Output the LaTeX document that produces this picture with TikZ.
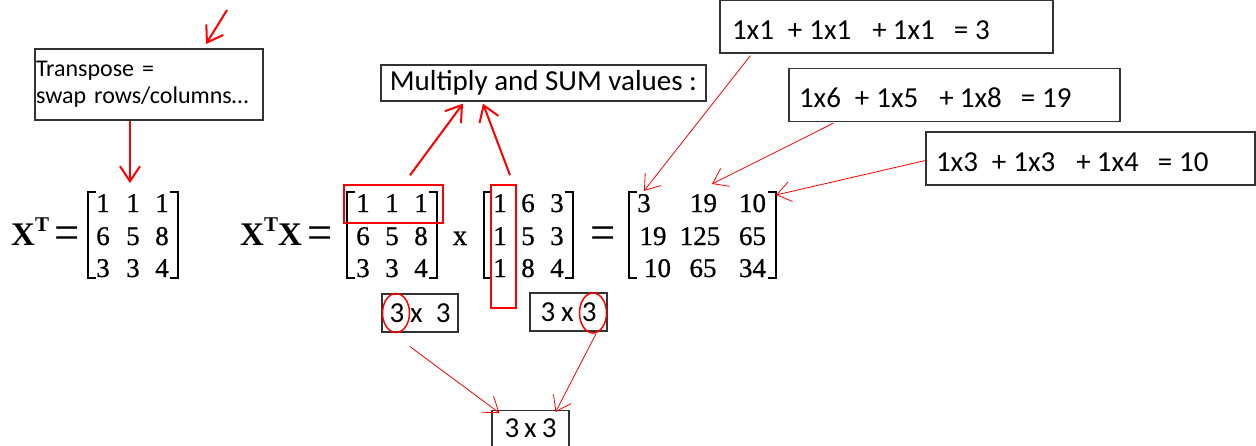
\documentclass[tikz,border=0pt]{standalone}
\usepackage{fontspec}
\usepackage{graphicx}
\newfontfamily\carl{Carlito}
\newfontfamily\lserif{Liberation Serif}
\newfontfamily\digf{Liberation Serif}[FakeBold=0.7]
\usetikzlibrary{arrows.meta,shapes.geometric,calc}
\newcommand\gp[1]{\hspace{#1pt}}
\newcommand\bigeq{\raisebox{-4pt}{\scalebox{1.4}[1.55]{=}}}
\begin{document}
\begin{tikzpicture}[x=1pt,y=-1pt,
  box/.style={draw=black!80, line width=1.2pt, rectangle, font=\carl\fontsize{29}{34}\selectfont},
  sumbox/.style={box, minimum height=53, align=left, text height=25pt, text depth=0pt},
  dig/.style={font=\digf\fontsize{27}{27}\selectfont, anchor=base, inner sep=0},
  sym/.style={font=\lserif\fontsize{32}{32}\selectfont, anchor=base, inner sep=0},
  xlab/.style={font=\lserif\bfseries\fontsize{33}{33}\selectfont, anchor=base west, inner sep=0},
  brk/.style={line width=1.6pt, black},
  redarr/.style={draw=red, line width=2pt, -{Straight Barb[length=15pt,width=20pt]}},
  thinarr/.style={draw=red, line width=0.8pt, -{Straight Barb[length=14pt,width=20pt]}},
  redrect/.style={draw=red, line width=1.5pt, rectangle, inner sep=0},
  redell/.style={draw=red, line width=1.5pt, ellipse, inner sep=0},
]
\useasboundingbox (0,0) rectangle (1256,445);

% text boxes
\node[box, font=\carl\fontsize{24}{27}\selectfont, minimum width=228, minimum height=71,
      text width=226, inner xsep=1, align=left] (tbox) at (149,84.5)
      {\raisebox{2pt}{Transpose =}\\\raisebox{2pt}{swap rows/columns…}};
\node[box, minimum width=325, minimum height=36, inner sep=0] (mult) at (543.5,83)
      {Multiply and SUM values :};
\node[sumbox, inner xsep=12, text width=309] (box1) at (886.5,26.5)
      {1x1\gp{14}+\gp{7}1x1\gp{21}+\gp{6}1x1\gp{19}=\gp{7}3};
\node[sumbox, inner xsep=10, text width=311] (box2) at (954.5,95)
      {1x6\gp{14}+\gp{7}1x5\gp{21}+\gp{6}1x8\gp{19}=\gp{7}19};
\node[sumbox, inner xsep=10, text width=309] (box3) at (1090.5,158.5)
      {1x3\gp{14}+\gp{7}1x3\gp{21}+\gp{6}1x4\gp{19}=\gp{7}10};

% labels
\node[xlab] (xt) at (11,245) {X\raisebox{14pt}{\fontsize{21}{21}\selectfont T}};
\node[sym] (eq1) at (67,245) {\bigeq};
\node[xlab] (xtx) at (240,245) {X\raisebox{14pt}{\fontsize{21}{21}\selectfont T}X};
\node[sym] (eq2) at (320,245) {\bigeq};
\node[dig, font=\digf\fontsize{29}{29}\selectfont] (times) at (460,245) {x};
\node[sym] (eq3) at (603,245) {\bigeq};

% matrix entries
\foreach \nm/\xx/\yy/\t in {
  a11/103/212/1, a12/133/212/1, a13/162/212/1,
  a21/103/245/6, a22/133/245/5, a23/162/245/8,
  a31/103/277/3, a32/133/277/3, a33/162/277/4,
  b11/363/212/1, b12/392/212/1, b13/421/212/1,
  b21/363/245/6, b22/392/245/5, b23/421/245/8,
  b31/363/277/3, b32/392/277/3, b33/421/277/4,
  c11/500/212/1, c12/528/212/6, c13/557/212/3,
  c21/500/245/1, c22/528/245/5, c23/557/245/3,
  c31/500/277/1, c32/528/277/8, c33/557/277/4,
  d11/644/212/3, d12/703.5/212/19, d13/752.5/212/10,
  d21/653/245/19, d22/700/245/125, d23/752.5/245/65,
  d31/657.5/277/10, d32/703/277/65, d33/752.5/277/34}
  {\node[dig] (\nm) at (\xx,\yy) {\t};}

% brackets
\foreach \L/\R in {88/178, 347/437, 484/573, 629/776}{
  \draw[brk] (\L+8,192) -- (\L,192) -- (\L,278) -- (\L+8,278);
  \draw[brk] (\R-8,192) -- (\R,192) -- (\R,278) -- (\R-8,278);
}

% red highlights
\node[redrect, minimum width=99, minimum height=38] (rowbox) at (393.5,204) {};
\node[redrect, minimum width=25, minimum height=123] (colbox) at (503.5,246.5) {};

% dimension boxes
\node[box, minimum width=76, minimum height=38, inner sep=0] (lsz) at (420,313) {3\gp{6}x\gp{13}3};
\node[box, minimum width=77, minimum height=38, inner sep=0] (rsz) at (568.5,312) {3\gp{6}x\gp{8}3};
\node[box, minimum width=77, minimum height=36, inner xsep=0, inner ysep=7, anchor=north] (bot) at (530.5,410) {3\gp{5}x\gp{5}3};
\node[redell, minimum width=27, minimum height=39] (lell) at (396,313) {};
\node[redell, minimum width=27, minimum height=40] (rell) at (593,313) {};

% coordinates
\coordinate (u0) at (227,10);
\coordinate (u1) at (206,44);
\coordinate (t1) at (130,183);
\coordinate (dtr) at (776,195);

% thick red arrows
\draw[redarr] (u0) -- (u1);
\draw[redarr] ([xshift=-19pt]tbox.south) -- (t1);
\draw[redarr] ([xshift=16.5pt,yshift=9pt]rowbox.north) -- ([xshift=-80.5pt,yshift=-2pt]mult.south);
\draw[redarr] ([xshift=6.5pt,yshift=9pt]colbox.north) -- ([xshift=-60.5pt,yshift=-2pt]mult.south);

% thin red arrows
\draw[thinarr] ([xshift=31pt,yshift=-2pt]box1.south west) -- ([yshift=3pt]d11.north);
\draw[thinarr] ([xshift=45pt,yshift=-1pt]box2.south west) -- ([xshift=8.5pt,yshift=10pt]d12.north);
\draw[thinarr] ([yshift=-2pt]box3.west) -- (dtr);
\draw[thinarr] ([xshift=-10pt,yshift=-14pt]lsz.south) -- ([xshift=8pt,yshift=-3pt]bot.north west);
\draw[thinarr] ([xshift=3pt]rell.south) -- ([xshift=-14pt,yshift=-2pt]bot.north east);
\end{tikzpicture}
\end{document}
